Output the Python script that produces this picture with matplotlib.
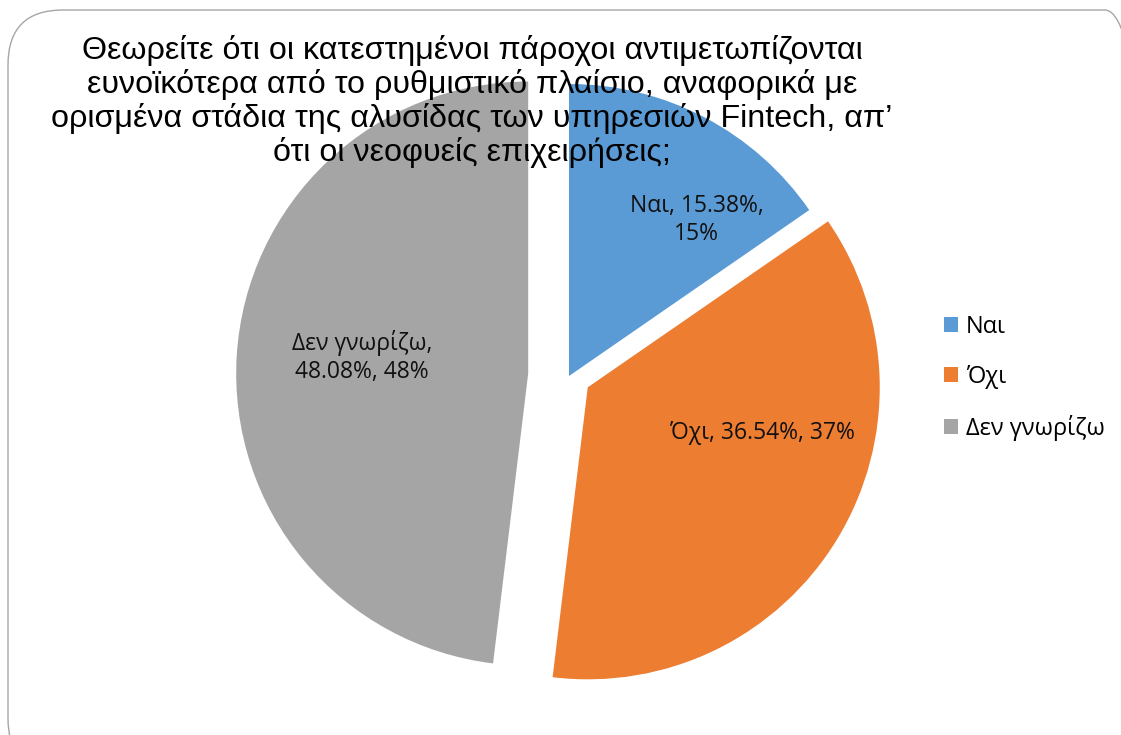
import matplotlib.pyplot as plt
from matplotlib.patches import FancyBboxPatch

# data
labels = ['Ναι', 'Όχι', 'Δεν γνωρίζω']
shares = [15.38, 36.54, 48.08]
rounded = [15, 37, 48]
colors = ['#5B9BD5', '#ED7D31', '#A5A5A5']
explode = [0.0, 0.075, 0.14]

title = ('Θεωρείτε ότι οι κατεστημένοι πάροχοι αντιμετωπίζονται\n'
         'ευνοϊκότερα από το ρυθμιστικό πλαίσιο, αναφορικά με\n'
         'ορισμένα στάδια της αλυσίδας των υπηρεσιών Fintech, απ’\n'
         'ότι οι νεοφυείς επιχειρήσεις;')

fig = plt.figure(figsize=(11.21, 7.35), dpi=100)

# rounded chart-area border (runs off the right and bottom edges)
border = FancyBboxPatch((0.08, -0.38), 11.52, 7.63,
                        boxstyle='round,pad=0,rounding_size=0.55',
                        transform=fig.dpi_scale_trans, fill=False,
                        edgecolor='#A6A6A6', linewidth=1.0)
fig.patches.append(border)

# pie axes: 292 px per unit, centre at (569, 376) px from top-left
W, H = 1121, 735
scale = 292
cx, cy = 569, H - 376
half = 1.2 * scale
ax = fig.add_axes([(cx - half) / W, (cy - half) / H, 2 * half / W, 2 * half / H])
wedges, _ = ax.pie(shares, colors=colors, explode=explode, startangle=90,
                   counterclock=False, radius=1.0,
                   wedgeprops=dict(linewidth=0))
ax.set_xlim(-1.2, 1.2)
ax.set_ylim(-1.2, 1.2)
ax.axis('off')

# data labels
label_font = ['Open Sans', 'DejaVu Sans']
label_pos = [(0.438, 0.535), (0.664, -0.195), (-0.709, 0.066)]
label_txt = [
    f'{labels[0]}, {shares[0]:.2f}%,\n{rounded[0]}%',
    f'{labels[1]}, {shares[1]:.2f}%, {rounded[1]}%',
    f'{labels[2]},\n{shares[2]:.2f}%, {rounded[2]}%',
]
for (x, y), t in zip(label_pos, label_txt):
    ax.text(x, y, t, ha='center', va='center', fontsize=16.5,
            family=label_font, color='#111111', linespacing=1.2)

# legend
fig.legend(wedges, labels, loc='center left', bbox_to_anchor=(923 / W, 1 - 378 / H),
           frameon=False, prop={'family': label_font, 'size': 17},
           handlelength=0.57, handleheight=0.57, handletextpad=0.35,
           labelspacing=1.1)

# title overlapping pie
fig.text(472 / W, 1 - 35 / H, title, ha='center', va='top', fontsize=23.2,
         family=['Liberation Sans', 'DejaVu Sans'], color='black',
         linespacing=1.12, zorder=10)

fig.savefig('out.png', dpi=100)
